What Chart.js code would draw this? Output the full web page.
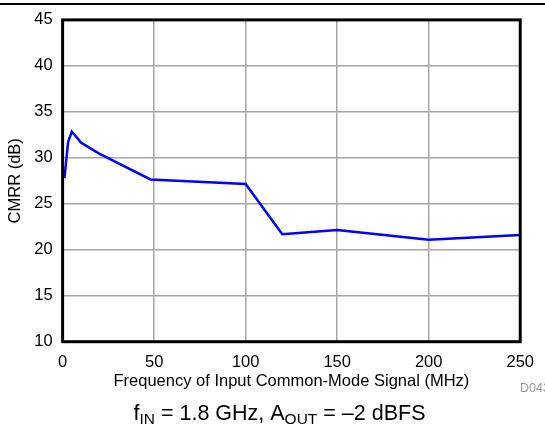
<!DOCTYPE html>
<html>
<head>
<meta charset="utf-8">
<script src="https://cdn.jsdelivr.net/npm/chart.js@4.4.1/dist/chart.umd.min.js"></script>
<style>
  html, body { margin: 0; padding: 0; background: #fff; }
  #wrap { width: 545px; height: 427px; }
</style>
</head>
<body>
<div id="wrap"><canvas id="cmrr" width="545" height="427"></canvas></div>
<script>
  // CMRR vs frequency of input common-mode signal
  const FREQ_MHZ = [1, 3, 5, 7, 10, 20, 48, 100, 120, 150, 200, 250];
  const CMRR_DB = [27.8, 31.7, 32.85, 32.4, 31.65, 30.45, 27.65, 27.15, 21.7, 22.15, 21.1, 21.6];

  const X_MIN = 0, X_MAX = 250, X_STEP = 50;
  const Y_MIN = 10, Y_MAX = 45, Y_STEP = 5;

  const X_TITLE = "Frequency of Input Common-Mode Signal (MHz)";
  const Y_TITLE = "CMRR (dB)";
  const NOTE_ID = "D043";

  const FONT = "'Liberation Sans', Arial, sans-serif";

  // frame + top rule + condition line (with subscripts) + figure id
  const decor = {
    id: "decor",
    afterDatasetsDraw(chart) {
      const { ctx, chartArea: a } = chart;
      ctx.save();
      ctx.strokeStyle = "#000";
      ctx.lineWidth = 3;
      ctx.strokeRect(a.left, a.top, a.right - a.left, a.bottom - a.top);
      ctx.restore();
    },
    afterDraw(chart) {
      const { ctx } = chart;
      ctx.save();
      // rule across the top
      ctx.strokeStyle = "#000";
      ctx.lineWidth = 1.8;
      ctx.beginPath();
      ctx.moveTo(0, 4);
      ctx.lineTo(545, 4);
      ctx.stroke();

      // f_IN = 1.8 GHz, A_OUT = –2 dBFS
      const parts = [
        ["f", false], ["IN", true], [" = 1.8 GHz, A", false], ["OUT", true], [" = \u20132 dBFS", false],
      ];
      const big = "21.5px " + FONT, small = "15.5px " + FONT;
      let total = 0;
      parts.forEach(([t, sub]) => { ctx.font = sub ? small : big; total += ctx.measureText(t).width; });
      let x = 279.5 - total / 2;
      ctx.fillStyle = "#000";
      ctx.textAlign = "left";
      ctx.textBaseline = "alphabetic";
      parts.forEach(([t, sub]) => {
        ctx.font = sub ? small : big;
        ctx.fillText(t, x, sub ? 423.5 : 419.5);
        x += ctx.measureText(t).width;
      });

      ctx.font = "12.5px " + FONT;
      ctx.fillStyle = "#9a9a9a";
      ctx.textBaseline = "middle";
      ctx.fillText(NOTE_ID, 520, 389);
      ctx.restore();
    },
  };

  new Chart(document.getElementById("cmrr"), {
    type: "line",
    data: {
      datasets: [{
        data: FREQ_MHZ.map((f, i) => ({ x: f, y: CMRR_DB[i] })),
        borderColor: "#0000ff",
        borderWidth: 2.5,
        pointRadius: 0,
        tension: 0,
        fill: false,
      }],
    },
    options: {
      responsive: false,
      animation: false,
      devicePixelRatio: 1,
      layout: { padding: { top: 17.4, right: 23.7, left: 0, bottom: 0 } },
      plugins: { legend: { display: false }, tooltip: { enabled: false } },
      scales: {
        x: {
          type: "linear",
          min: X_MIN,
          max: X_MAX,
          afterFit: (s) => { s.height = 85.3; },
          ticks: { stepSize: X_STEP, color: "#000", padding: 11, font: { family: FONT, size: 16.5 } },
          grid: { color: "#a6a6a6", lineWidth: 1.5, drawTicks: false },
          border: { display: false },
          title: {
            display: true,
            text: X_TITLE,
            color: "#000",
            font: { family: FONT, size: 16.5 },
            padding: { top: 0, bottom: 35.4 },
          },
        },
        y: {
          min: Y_MIN,
          max: Y_MAX,
          afterFit: (s) => { s.width = 62.6; },
          ticks: { stepSize: Y_STEP, color: "#000", padding: 10, font: { family: FONT, size: 16.5 } },
          grid: { color: "#a6a6a6", lineWidth: 1.5, drawTicks: false },
          border: { display: false },
          title: {
            display: true,
            text: Y_TITLE,
            color: "#000",
            font: { family: FONT, size: 16.5 },
            padding: { top: 6, bottom: 0 },
          },
        },
      },
    },
    plugins: [decor],
  });
</script>
</body>
</html>
